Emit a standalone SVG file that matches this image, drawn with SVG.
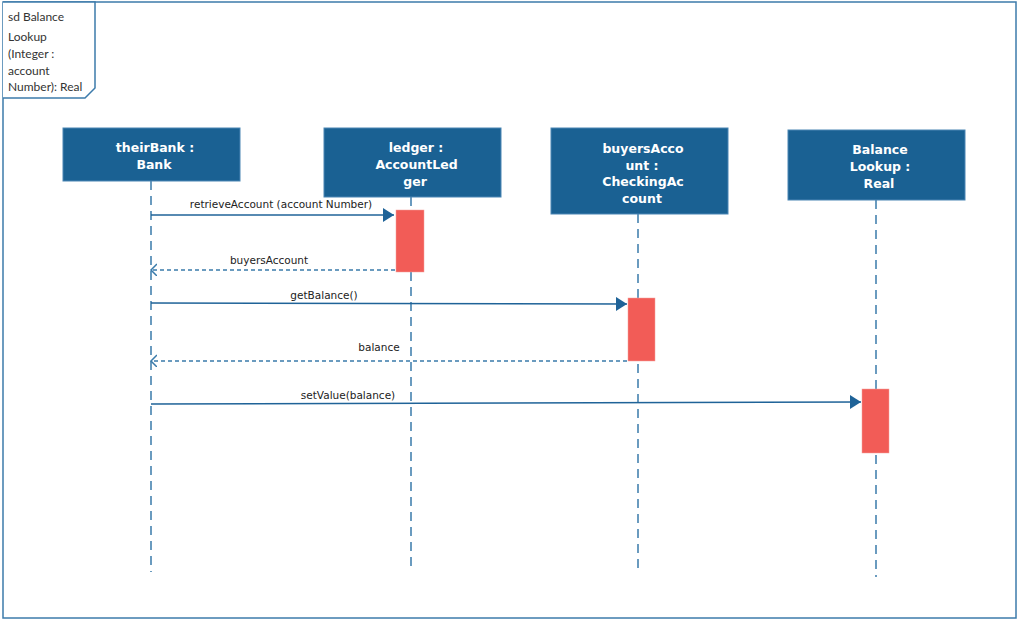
<svg xmlns="http://www.w3.org/2000/svg" width="1019" height="621" viewBox="0 0 1019 621">
<style>
.frame{fill:#fff;stroke:#3c7bab;stroke-width:1.5}
.node rect{fill:#1a6193;stroke:#4a86b4;stroke-width:1}
.node text{fill:#fff;font-family:"DejaVu Sans",sans-serif;font-weight:bold;font-size:12.5px;text-anchor:middle}
.life{stroke:#3a7bab;stroke-width:1.5;stroke-dasharray:9 6;fill:none}
.act{fill:#f25c57;stroke:#f4a09c;stroke-width:0.5}
.msg{stroke:#1f6398;stroke-width:1.5;fill:none}
.ret{stroke:#3a7bab;stroke-width:1.5;stroke-dasharray:4 3;fill:none}
.lbl{font-family:"DejaVu Sans",sans-serif;font-size:10.5px;fill:#222;text-anchor:middle}
.flbl{font-family:Lato,sans-serif;font-size:12px;fill:#333}
</style>
<defs>
<marker id="fill" markerWidth="14" markerHeight="16" refX="11" refY="7" orient="auto" markerUnits="userSpaceOnUse">
<path d="M0,0 L11,7 L0,14 Z" fill="#1f6398"/>
</marker>
<marker id="open" markerWidth="12" markerHeight="14" refX="6" refY="6" orient="auto" markerUnits="userSpaceOnUse">
<path d="M0,0 L6,6 L0,12" fill="none" stroke="#3a7bab" stroke-width="1.5"/>
</marker>
</defs>
<rect width="1019" height="621" fill="#fff"/>
<g id="frame">
<rect class="frame" x="3" y="2" width="1013" height="616"/>
<path class="frame" d="M3,2 L95,2 L95,88 L85,98 L3,98" fill="none"/>
<text class="flbl" x="8" y="21">sd Balance</text>
<text class="flbl" x="8" y="41">Lookup</text>
<text class="flbl" x="8" y="58">(Integer :</text>
<text class="flbl" x="8" y="75">account</text>
<text class="flbl" x="8" y="91">Number): Real</text>
</g>
<g id="lifelines">
<line class="life" x1="151" y1="181" x2="151" y2="572"/>
<line class="life" x1="411" y1="197" x2="411" y2="572"/>
<line class="life" x1="638" y1="214" x2="638" y2="572"/>
<line class="life" x1="876" y1="200" x2="876" y2="577"/>
</g>
<g id="theirBank" class="node">
<rect x="63" y="128" width="177" height="53"/>
<text x="155" y="152">theirBank :</text>
<text x="154" y="169">Bank</text>
</g>
<g id="ledger" class="node">
<rect x="324" y="128" width="177" height="69"/>
<text x="416" y="152">ledger :</text>
<text x="416.5" y="169">AccountLed</text>
<text x="415" y="186">ger</text>
</g>
<g id="buyersAccount" class="node">
<rect x="551" y="128" width="177" height="86"/>
<text x="643" y="153">buyersAcco</text>
<text x="642" y="169.5">unt :</text>
<text x="643" y="186">CheckingAc</text>
<text x="642" y="203">count</text>
</g>
<g id="balanceLookup" class="node">
<rect x="788" y="130" width="177" height="70"/>
<text x="880" y="154">Balance</text>
<text x="880" y="171">Lookup :</text>
<text x="879" y="188">Real</text>
</g>
<g id="activations">
<rect class="act" x="396" y="210" width="28" height="62"/>
<rect class="act" x="628" y="298" width="27" height="63"/>
<rect class="act" x="862" y="389" width="27" height="64"/>
</g>
<g id="connectors">
<line class="msg" x1="151" y1="215" x2="394" y2="215" marker-end="url(#fill)"/>
<text class="lbl" x="281" y="208">retrieveAccount (account Number)</text>
<line class="ret" x1="395" y1="270" x2="151" y2="270" marker-end="url(#open)"/>
<text class="lbl" x="269" y="264">buyersAccount</text>
<line class="msg" x1="151" y1="303" x2="627" y2="304" marker-end="url(#fill)"/>
<text class="lbl" x="324" y="299">getBalance()</text>
<line class="ret" x1="627" y1="361" x2="151" y2="361" marker-end="url(#open)"/>
<text class="lbl" x="379" y="351">balance</text>
<line class="msg" x1="151" y1="404" x2="861" y2="402" marker-end="url(#fill)"/>
<text class="lbl" x="348" y="399">setValue(balance)</text>
</g>
</svg>
